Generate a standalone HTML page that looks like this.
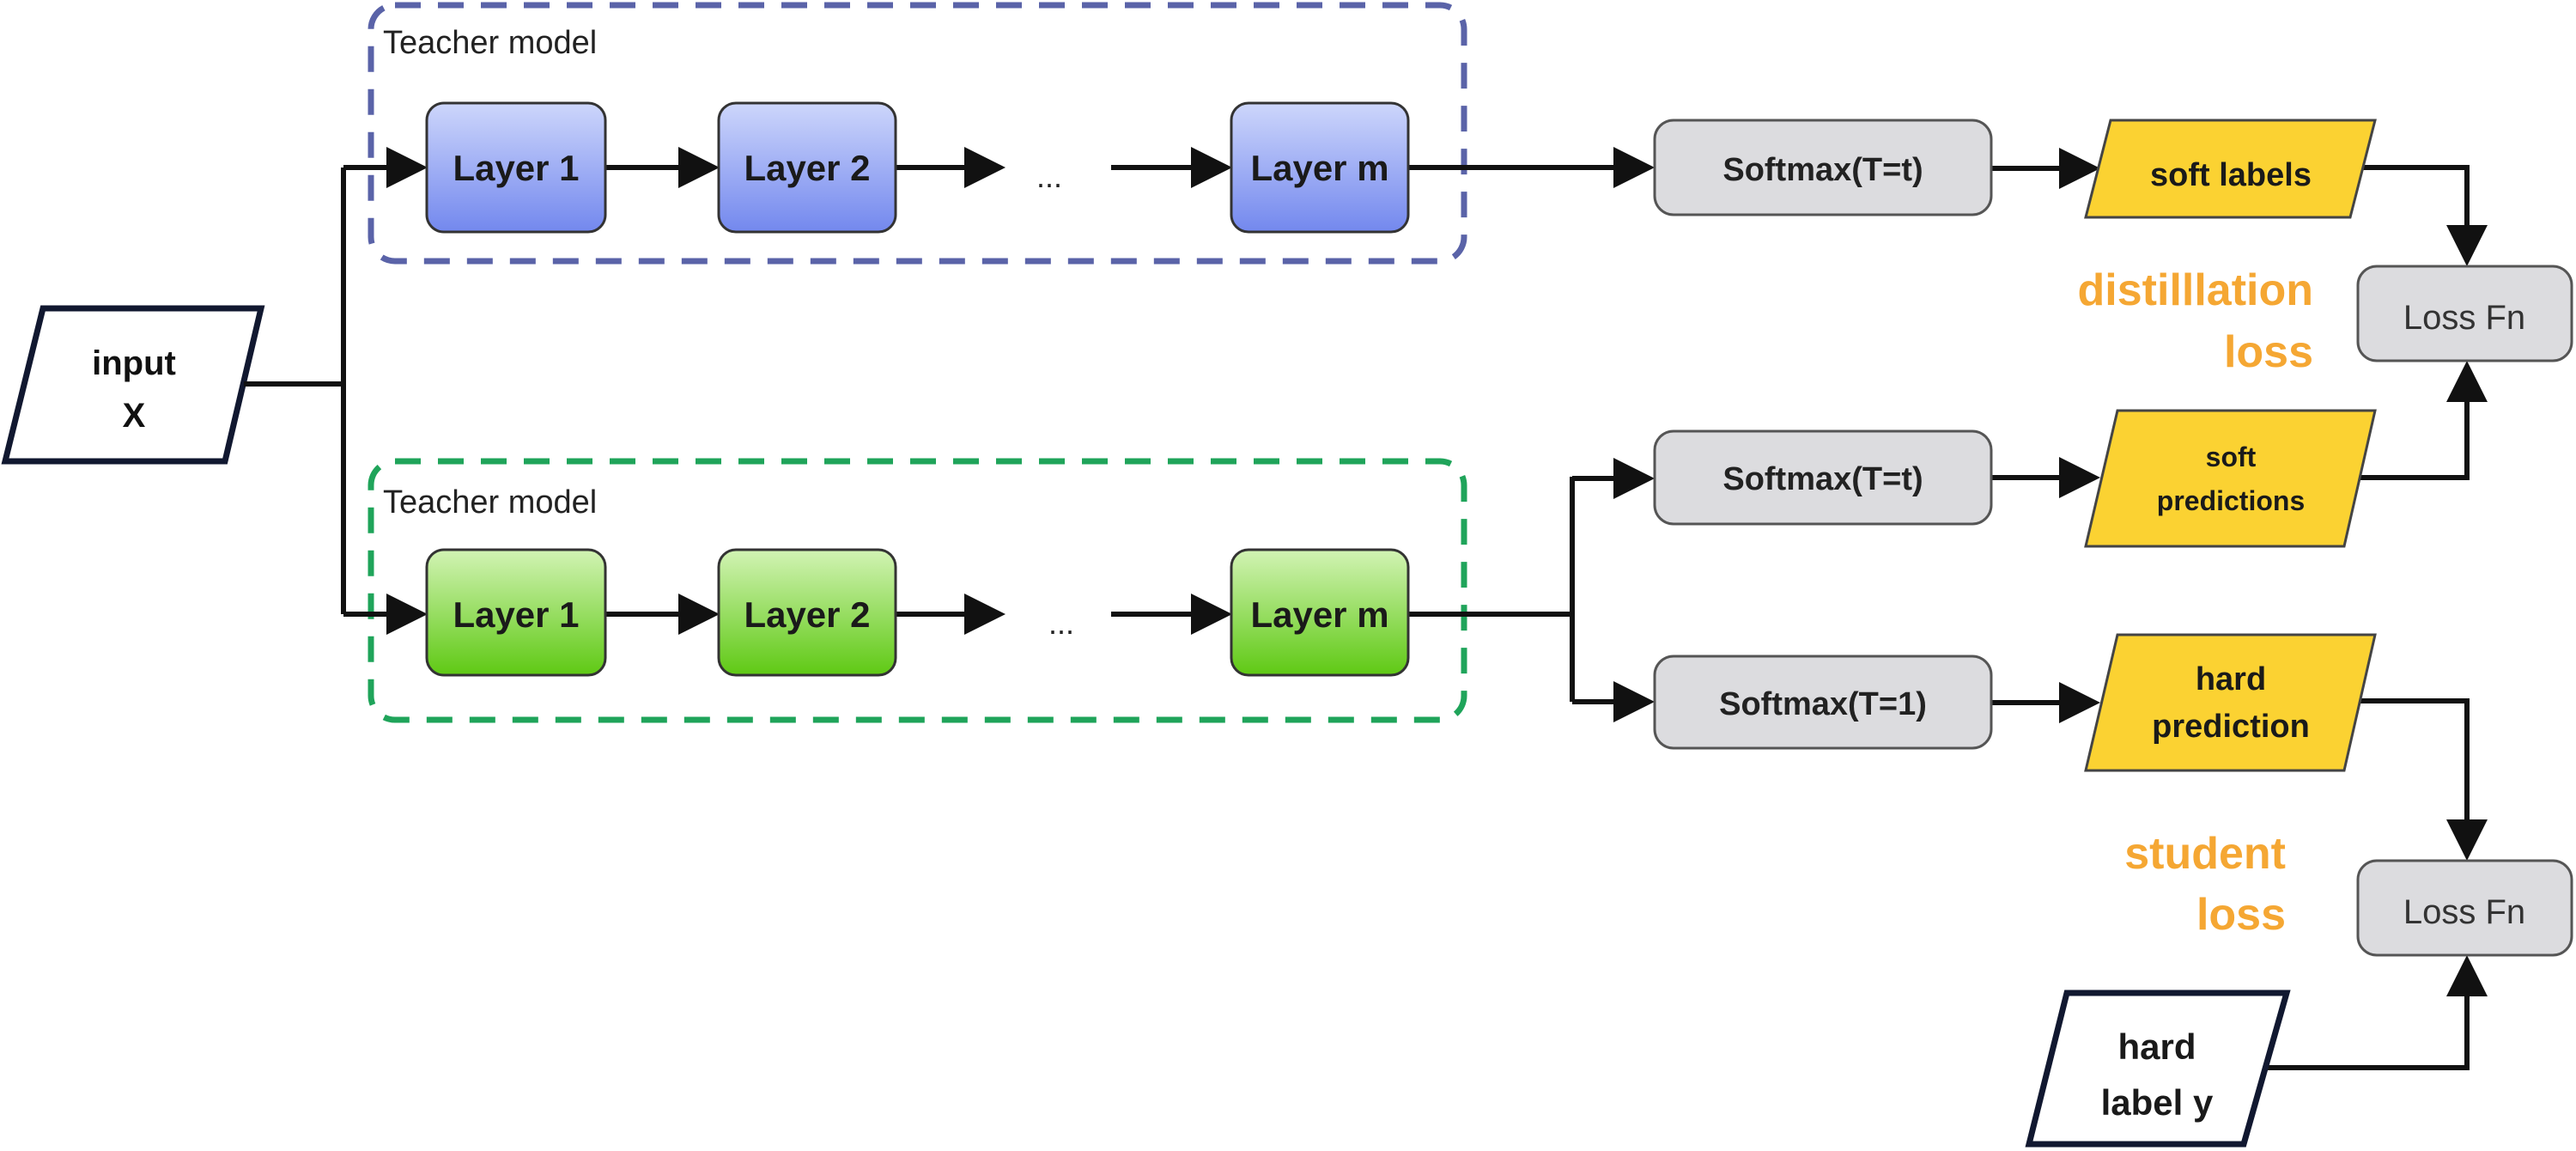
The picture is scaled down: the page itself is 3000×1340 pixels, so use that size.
<!DOCTYPE html>
<html><head><meta charset="utf-8"><style>
html,body{margin:0;padding:0;background:#fff;}
svg{display:block;}
text{font-family:"Liberation Sans",sans-serif;}
</style></head><body>
<svg width="3000" height="1340" viewBox="0 0 3000 1340" xmlns="http://www.w3.org/2000/svg">
<defs>
<linearGradient id="gb" x1="0" y1="0" x2="0" y2="1"><stop offset="0" stop-color="#cdd6fb"/><stop offset="1" stop-color="#7388ee"/></linearGradient>
<linearGradient id="gg" x1="0" y1="0" x2="0" y2="1"><stop offset="0" stop-color="#d2f3b4"/><stop offset="1" stop-color="#5fc914"/></linearGradient>
<marker id="ar" markerWidth="8" markerHeight="8" refX="7" refY="4" orient="auto" markerUnits="strokeWidth"><path d="M0,0 L8,4 L0,8 z" fill="#111"/></marker>
</defs>
<g fill="none" stroke-width="7" stroke-dasharray="30,20">
<rect x="432" y="6" width="1273" height="298" rx="28" stroke="#5a63a8"/>
<rect x="432" y="537" width="1273" height="301" rx="28" stroke="#1fa45a"/>
</g>
<text x="446" y="62" font-size="38" fill="#222">Teacher model</text>
<text x="446" y="597" font-size="38" fill="#222">Teacher model</text>

<!-- input -->
<polygon points="50,359 304,359 262,537 6,537" fill="#fff" stroke="#111830" stroke-width="7"/>
<text x="156" y="436" font-size="40" font-weight="bold" text-anchor="middle" fill="#111">input</text>
<text x="156" y="497" font-size="40" font-weight="bold" text-anchor="middle" fill="#111">X</text>

<g stroke="#111" stroke-width="6" fill="none">
<polyline points="284,447 400,447"/>
<polyline points="400,195 400,715"/>
<line x1="400" y1="195" x2="492" y2="195" marker-end="url(#ar)"/>
<line x1="400" y1="715" x2="492" y2="715" marker-end="url(#ar)"/>
<line x1="705" y1="195" x2="832" y2="195" marker-end="url(#ar)"/>
<line x1="1043" y1="195" x2="1165" y2="195" marker-end="url(#ar)"/>
<line x1="1294" y1="195" x2="1429" y2="195" marker-end="url(#ar)"/>
<line x1="705" y1="715" x2="832" y2="715" marker-end="url(#ar)"/>
<line x1="1043" y1="715" x2="1165" y2="715" marker-end="url(#ar)"/>
<line x1="1294" y1="715" x2="1429" y2="715" marker-end="url(#ar)"/>
<line x1="1640" y1="195" x2="1921" y2="195" marker-end="url(#ar)"/>
<polyline points="1640,715 1831,715"/>
<polyline points="1831,555 1831,817"/>
<line x1="1831" y1="557" x2="1921" y2="557" marker-end="url(#ar)"/>
<line x1="1831" y1="817" x2="1921" y2="817" marker-end="url(#ar)"/>
<line x1="2319" y1="196" x2="2440" y2="196" marker-end="url(#ar)"/>
<line x1="2319" y1="556" x2="2440" y2="556" marker-end="url(#ar)"/>
<line x1="2319" y1="818" x2="2440" y2="818" marker-end="url(#ar)"/>
<polyline points="2752,195 2873,195 2873,304" marker-end="url(#ar)"/>
<polyline points="2740,556 2873,556 2873,426" marker-end="url(#ar)"/>
<polyline points="2740,816 2873,816 2873,996" marker-end="url(#ar)"/>
<polyline points="2638,1243 2873,1243 2873,1118" marker-end="url(#ar)"/>
</g>

<g stroke="#333" stroke-width="3">
<rect x="497" y="120" width="208" height="150" rx="20" fill="url(#gb)"/>
<rect x="837" y="120" width="206" height="150" rx="20" fill="url(#gb)"/>
<rect x="1434" y="120" width="206" height="150" rx="20" fill="url(#gb)"/>
<rect x="497" y="640" width="208" height="146" rx="20" fill="url(#gg)"/>
<rect x="837" y="640" width="206" height="146" rx="20" fill="url(#gg)"/>
<rect x="1434" y="640" width="206" height="146" rx="20" fill="url(#gg)"/>
</g>
<g font-size="42" font-weight="bold" text-anchor="middle" fill="#1a1a1a">
<text x="601" y="210">Layer 1</text>
<text x="940" y="210">Layer 2</text>
<text x="1537" y="210">Layer m</text>
<text x="601" y="730">Layer 1</text>
<text x="940" y="730">Layer 2</text>
<text x="1537" y="730">Layer m</text>
</g>
<text x="1222" y="218" font-size="36" text-anchor="middle" fill="#222">...</text>
<text x="1236" y="738" font-size="36" text-anchor="middle" fill="#222">...</text>

<g stroke="#555" stroke-width="3" fill="#dcdcdf">
<rect x="1927" y="140" width="392" height="110" rx="22"/>
<rect x="1927" y="502" width="392" height="108" rx="22"/>
<rect x="1927" y="764" width="392" height="107" rx="22"/>
<rect x="2746" y="310" width="249" height="110" rx="22"/>
<rect x="2746" y="1002" width="249" height="110" rx="22"/>
</g>
<g font-size="38" font-weight="bold" text-anchor="middle" fill="#222">
<text x="2123" y="210">Softmax(T=t)</text>
<text x="2123" y="570">Softmax(T=t)</text>
<text x="2123" y="832">Softmax(T=1)</text>
</g>
<g font-size="40" text-anchor="middle" fill="#333">
<text x="2870" y="383">Loss Fn</text>
<text x="2870" y="1075">Loss Fn</text>
</g>

<g fill="#fbd232" stroke="#444" stroke-width="3">
<polygon points="2458,140 2766,140 2737,253 2429,253"/>
<polygon points="2466,478 2766,478 2730,636 2429,636"/>
<polygon points="2466,739 2766,739 2730,897 2429,897"/>
</g>
<g font-weight="bold" text-anchor="middle" fill="#1a1a1a">
<text x="2598" y="216" font-size="38">soft labels</text>
<text x="2598" y="543" font-size="32">soft</text>
<text x="2598" y="594" font-size="32">predictions</text>
<text x="2598" y="803" font-size="38">hard</text>
<text x="2598" y="858" font-size="38">prediction</text>
</g>

<polygon points="2407,1156 2663,1156 2613,1332 2363,1332" fill="#fff" stroke="#111830" stroke-width="7"/>
<g font-size="42" font-weight="bold" text-anchor="middle" fill="#1a1a1a">
<text x="2512" y="1233">hard</text>
<text x="2512" y="1298">label y</text>
</g>

<g font-size="52" font-weight="bold" text-anchor="end" fill="#f5a733">
<text x="2694" y="355">distilllation</text>
<text x="2694" y="427">loss</text>
<text x="2662" y="1011">student</text>
<text x="2662" y="1082">loss</text>
</g>
</svg>
</body></html>
